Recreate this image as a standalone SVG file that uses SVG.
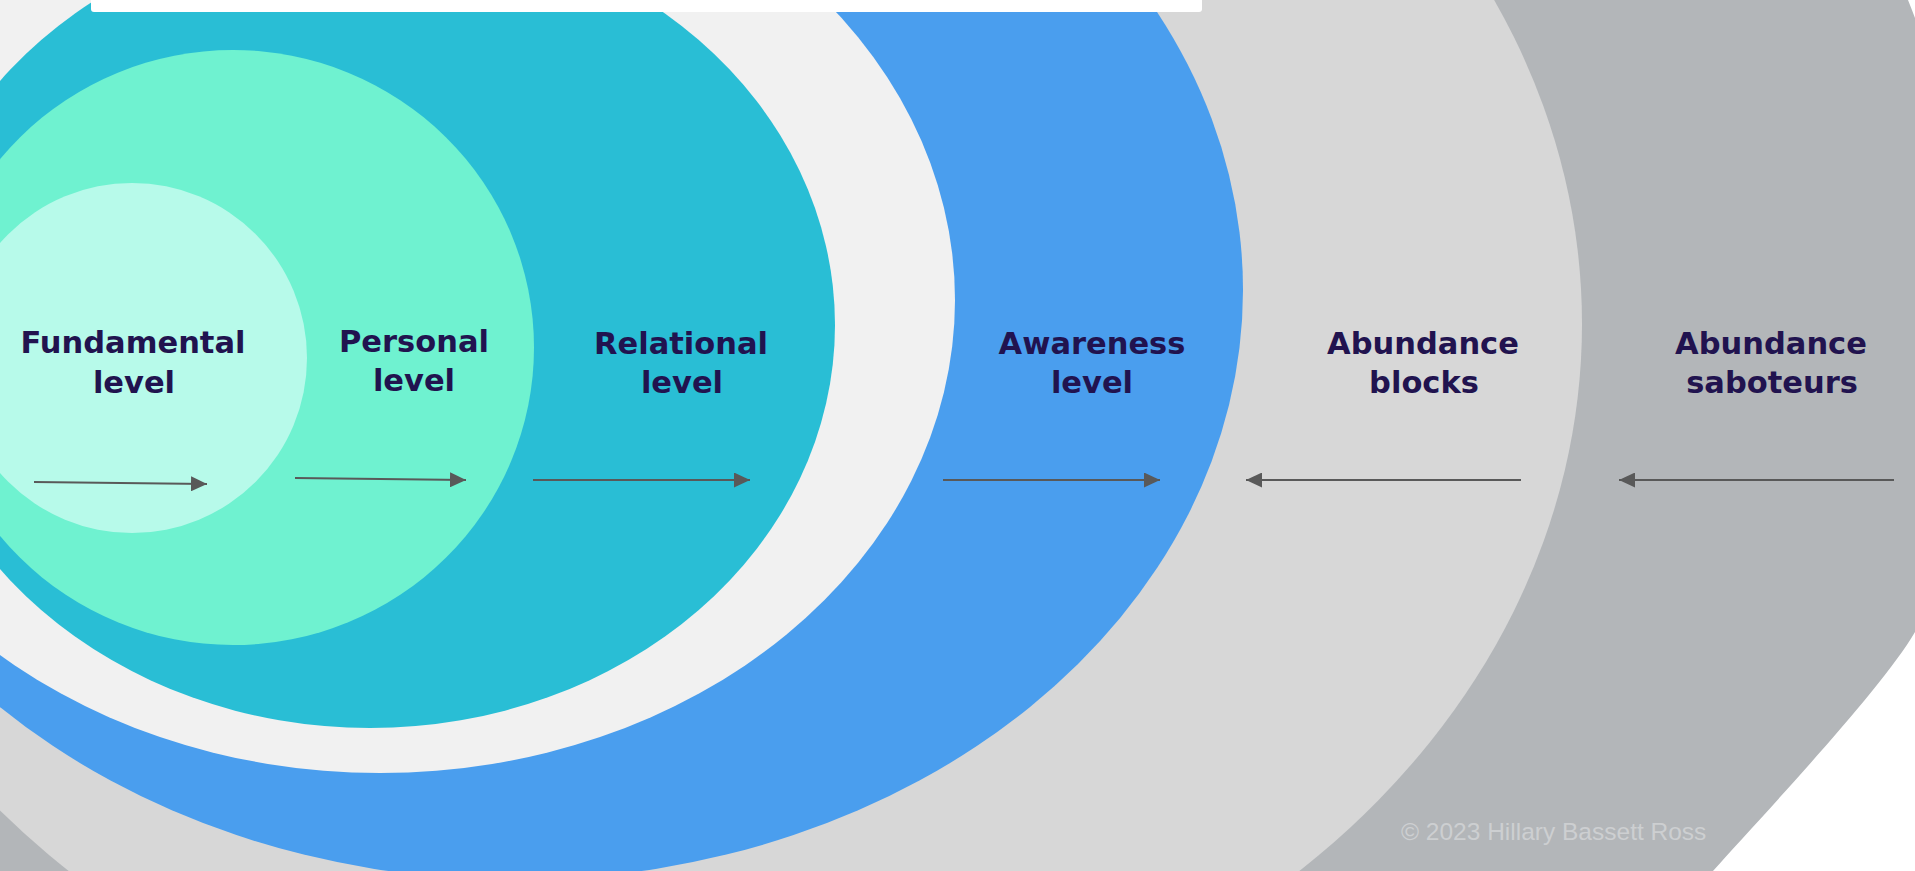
<svg xmlns="http://www.w3.org/2000/svg" width="1915" height="871" viewBox="0 0 1915 871">
<style>
.lbl{font-family:"DejaVu Sans","Noto Sans",sans-serif;font-weight:700;font-size:30.5px;fill:#21134F;text-anchor:middle}
.arr{stroke:#595959;stroke-width:2;fill:none;marker-end:url(#ah)}
.copy{font-family:"Liberation Sans",Arial,sans-serif;font-size:24.5px;fill:#CDCFD1}
</style>
<defs>
<marker id="ah" markerUnits="userSpaceOnUse" markerWidth="16" markerHeight="15" refX="16" refY="7.5" orient="auto">
<path d="M0,0 L16,7.5 L0,15 Z" fill="#595959"/>
</marker>
</defs>
<rect x="0" y="0" width="1915" height="871" fill="#FFFFFF"/>
<g id="abundance-saboteurs">
<path d="M1890,-100 L1908,0 C1990,200 1985,512 1915,632 C1880,692 1760,818 1713,871 L1650,960 L-100,960 L-100,-100 Z" fill="#B3B6B9"/>
<text class="lbl" x="1771" y="354">Abundance</text>
<text class="lbl" x="1772" y="393">saboteurs</text>
</g>
<g id="abundance-blocks">
<ellipse cx="684" cy="324" rx="898" ry="751" fill="#D7D7D7"/>
<text class="lbl" x="1423" y="354">Abundance</text>
<text class="lbl" x="1424" y="393">blocks</text>
</g>
<g id="awareness-level">
<ellipse cx="515" cy="290" rx="728" ry="590" fill="#4A9EEE"/>
<text class="lbl" x="1092" y="354">Awareness</text>
<text class="lbl" x="1092" y="393">level</text>
</g>
<g id="gap-ring">
<ellipse cx="380" cy="300" rx="575" ry="473" fill="#F1F1F1"/>
</g>
<g id="relational-level">
<ellipse cx="370" cy="325" rx="465" ry="403" fill="#29BED5"/>
<text class="lbl" x="681" y="354">Relational</text>
<text class="lbl" x="682" y="393">level</text>
</g>
<g id="personal-level">
<ellipse cx="233" cy="347.5" rx="301" ry="297.5" fill="#6FF2D0"/>
<text class="lbl" x="414" y="352">Personal</text>
<text class="lbl" x="414" y="391">level</text>
</g>
<g id="fundamental-level">
<circle cx="132" cy="358" r="175" fill="#B7FAEA"/>
<text class="lbl" x="133" y="353">Fundamental</text>
<text class="lbl" x="134" y="393">level</text>
</g>
<rect x="91" y="-6" width="1111" height="18" rx="3" fill="#FFFFFF"/>
<g id="connectors">
<line class="arr" x1="34" y1="482" x2="207" y2="484"/>
<line class="arr" x1="295" y1="478" x2="466" y2="480"/>
<line class="arr" x1="533" y1="480" x2="750" y2="480"/>
<line class="arr" x1="943" y1="480" x2="1160" y2="480"/>
<line class="arr" x1="1521" y1="480" x2="1246" y2="480"/>
<line class="arr" x1="1894" y1="480" x2="1619" y2="480"/>
</g>
<text class="copy" x="1401" y="840">© 2023 Hillary Bassett Ross</text>
</svg>
